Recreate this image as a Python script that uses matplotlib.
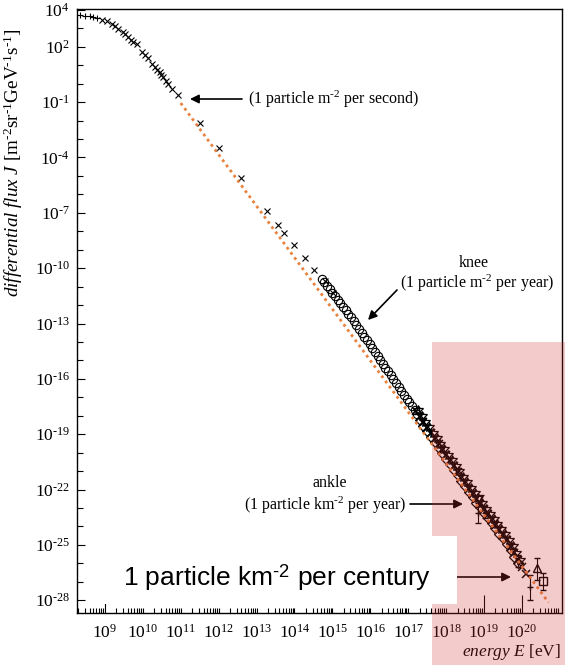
import matplotlib.pyplot as plt
import numpy as np
from matplotlib.patches import Rectangle
from matplotlib.ticker import FixedLocator, LogLocator, NullFormatter

plt.rcParams['font.family'] = ['Liberation Serif', 'DejaVu Serif']
plt.rcParams['mathtext.fontset'] = 'custom'
plt.rcParams['mathtext.rm'] = 'Liberation Serif'
plt.rcParams['mathtext.it'] = 'Liberation Serif:italic'
plt.rcParams['mathtext.sf'] = 'Liberation Sans'

# all values are log10(E / eV) and log10(J / m^-2 sr^-1 GeV^-1 s^-1)
plus_logE = [8.34, 8.47, 8.60, 8.68, 8.79]
plus_logJ = [3.74, 3.68, 3.68, 3.63, 3.58]

low_logE = [8.92, 9.05, 9.18, 9.26, 9.34, 9.47, 9.53, 9.61, 9.69, 9.74, 9.84, 9.98,
            10.06, 10.13, 10.24, 10.32, 10.37, 10.45, 10.48, 10.53, 10.61, 10.66, 10.77, 10.93]
low_logJ = [3.47, 3.41, 3.25, 3.14, 2.98, 2.82, 2.71, 2.54, 2.38, 2.27, 2.16, 1.73,
            1.57, 1.40, 1.08, 0.91, 0.75, 0.64, 0.48, 0.37, 0.15, -0.01, -0.28, -0.61]

mid_logE = [11.51, 12.01, 12.59, 13.27, 13.56, 13.72, 13.99, 14.28, 14.51, 14.80, 15.02]
mid_logJ = [-2.13, -3.49, -5.12, -6.91, -7.67, -8.11, -8.76, -9.47, -10.12, -10.72, -11.32]

# air shower array points around the knee
circ_logE = [14.72, 14.79, 14.86, 14.93, 15.00, 15.07, 15.14, 15.21, 15.28, 15.35, 15.42, 15.49,
             15.56, 15.63, 15.70, 15.77, 15.84, 15.91, 15.98, 16.05, 16.12, 16.19, 16.26, 16.33,
             16.40, 16.47, 16.54, 16.61, 16.68, 16.75, 16.82, 16.89, 16.96, 17.03, 17.10, 17.17, 17.24]
circ_logJ = [-10.58, -10.77, -10.96, -11.15, -11.34, -11.53, -11.72, -11.91, -12.09, -12.28, -12.47, -12.66,
             -12.87, -13.08, -13.29, -13.50, -13.71, -13.92, -14.13, -14.34, -14.55, -14.76, -14.97, -15.18,
             -15.39, -15.60, -15.81, -16.02, -16.23, -16.44, -16.65, -16.86, -17.07, -17.28, -17.49, -17.70, -17.91]

# highest energies, several experiments
bandA_logE = [17.2, 17.3, 17.4, 17.5, 17.6, 17.7, 17.8, 17.9, 18.0, 18.1, 18.2, 18.3, 18.4, 18.5, 18.6,
              18.7, 18.8, 18.9, 19.0, 19.1, 19.2, 19.3, 19.4, 19.5, 19.6, 19.7, 19.8, 19.9, 20.0, 20.1]
bandA_logJ = [-17.75, -18.05, -18.35, -18.65, -18.95, -19.25, -19.55, -19.85, -20.15, -20.45, -20.75,
              -21.05, -21.35, -21.65, -21.95, -22.23, -22.51, -22.79, -23.07, -23.35, -23.63, -23.91,
              -24.19, -24.47, -24.75, -25.10, -25.45, -25.80, -26.20, -26.60]
bandB_logE = [17.25, 17.35, 17.45, 17.55, 17.65, 17.75, 17.85, 17.95, 18.05, 18.15, 18.25, 18.35, 18.45,
              18.55, 18.65, 18.75, 18.85, 18.95, 19.05, 19.15, 19.25, 19.35, 19.45, 19.55, 19.65, 19.75,
              19.85, 19.95]
bandB_logJ = [-17.70, -18.00, -18.32, -18.60, -18.92, -19.20, -19.52, -19.80, -20.12, -20.40, -20.72,
              -21.00, -21.32, -21.60, -21.92, -22.18, -22.48, -22.74, -23.04, -23.30, -23.60, -23.86,
              -24.16, -24.42, -24.74, -25.08, -25.42, -25.80]
bandC_logE = [17.3, 17.4, 17.5, 17.6, 17.7, 17.8, 17.9, 18.0, 18.1, 18.2, 18.3, 18.4, 18.5, 18.6,
              18.7, 18.8, 18.9, 19.0, 19.1, 19.2, 19.3, 19.4, 19.5, 19.6, 19.7, 19.8, 19.9]
bandC_logJ = [-18.25, -18.55, -18.83, -19.15, -19.43, -19.75, -20.03, -20.35, -20.63, -20.95, -21.23,
              -21.55, -21.83, -22.15, -22.41, -22.71, -22.97, -23.27, -23.53, -23.83, -24.09, -24.39,
              -24.65, -24.95, -25.28, -25.65, -25.98]

err_logE = [18.84, 18.92, 19.03, 19.90, 20.21]
err_logJ = [-23.27, -22.60, -23.25, -25.88, -27.30]
err_lo = [-23.82, -22.90, -23.54, -26.20, -28.00]
err_hi = [-22.73, -22.30, -22.95, -25.55, -26.64]

tri_logE, tri_logJ, tri_lo, tri_hi = [20.40], [-26.26], [-26.91], [-25.72]
sq_logE, sq_logJ, sq_lo, sq_hi = [20.56], [-26.97], [-27.46], [-26.53]

# E^-2.8 power law
fit_logE = [11.0, 20.7]
fit_logJ = [-1.05, -28.12]

xtick_exp = [9, 10, 11, 12, 13, 14, 15, 16, 17, 18, 19, 20]
ytick_exp = [4, 2, -1, -4, -7, -10, -13, -16, -19, -22, -25, -28]


def p(v):
    return 10.0 ** np.asarray(v, dtype=float)


def exp_label(k):
    # short hyphen in the exponent, like the printed figure
    if k < 0:
        return r'$10^{\text{-}%d}$' % -k
    return r'$10^{%d}$' % k


fig = plt.figure(figsize=(5.65, 6.65), dpi=100)
ax = fig.add_axes([0.136, 0.078, 0.859, 0.9085])
ax.set_xscale('log')
ax.set_yscale('log')
ax.set_xlim(10 ** 8.26, 10 ** 21.06)
ax.set_ylim(10 ** -28.7, 10 ** 4.05)

ax.plot(p(plus_logE), p(plus_logJ), '+', color='k', ms=5, mew=0.8)
ax.plot(p(low_logE), p(low_logJ), 'x', color='k', ms=4, mew=0.8)
ax.plot(p(mid_logE), p(mid_logJ), 'x', color='k', ms=5, mew=0.8)
ax.plot(p(circ_logE), p(circ_logJ), 'o', mfc='none', mec='k', ms=6, mew=0.8)
ax.plot(p(bandA_logE), p(bandA_logJ), 'x', color='k', ms=6, mew=1.1)
ax.plot(p(bandB_logE), p(bandB_logJ), '*', mfc='none', mec='k', ms=7.5, mew=0.9)
ax.plot(p(bandC_logE), p(bandC_logJ), 'D', mfc='none', mec='k', ms=5, mew=0.9)

J = p(err_logJ)
ax.errorbar(p(err_logE), J, yerr=[J - p(err_lo), p(err_hi) - J], fmt='+', color='k',
            ms=5, elinewidth=0.8, capsize=2)
J = p(tri_logJ)
ax.errorbar(p(tri_logE), J, yerr=[J - p(tri_lo), p(tri_hi) - J], fmt='^', mfc='none', mec='k',
            ecolor='k', ms=6, elinewidth=0.8, capsize=2)
J = p(sq_logJ)
ax.errorbar(p(sq_logE), J, yerr=[J - p(sq_lo), p(sq_hi) - J], fmt='s', mfc='none', mec='k',
            ecolor='k', ms=6, elinewidth=0.8, capsize=2)

ax.plot(p(fit_logE), p(fit_logJ), linestyle=(0, (1, 1.3)), color='#e8823e', lw=2, zorder=3)

# axes and ticks
ax.set_xticks(p(xtick_exp))
ax.set_xticklabels([exp_label(k) for k in xtick_exp])
ax.xaxis.set_minor_locator(LogLocator(base=10, subs=np.arange(2, 10), numticks=100))
ax.xaxis.set_minor_formatter(NullFormatter())
ax.set_yticks(p(ytick_exp))
ax.set_yticklabels([exp_label(k) for k in ytick_exp])
ax.yaxis.set_minor_locator(FixedLocator([10.0 ** k for k in range(-28, 5) if k not in ytick_exp]))
ax.yaxis.set_minor_formatter(NullFormatter())

ax.tick_params(which='both', direction='in', top=False, right=False, width=0.8)
ax.tick_params(axis='y', which='major', length=6, pad=5, labelsize=12.5)
ax.tick_params(axis='y', which='minor', length=4.5)
ax.tick_params(axis='x', which='major', length=3.5, pad=8, labelsize=12.5)
ax.tick_params(axis='x', which='minor', length=3.5)
for t, loc in zip(ax.xaxis.get_major_ticks(), xtick_exp):
    if loc in (9, 19, 20):
        t.tick1line.set_markersize(13)
for s in ax.spines.values():
    s.set_linewidth(1.0)

ax.set_ylabel(r'$\mathit{differential\ flux\ J}$ [m$^{\text{-}2}$sr$^{\text{-}1}$GeV$^{\text{-}1}$s$^{\text{-}1}$]',
              fontsize=13.8)
ax.yaxis.set_label_coords(-0.107, 0.745)
ax.set_xlabel(r'$\mathit{energy\ E}$ [eV]', fontsize=12.5, ha='right')
ax.xaxis.set_label_coords(0.997, -0.048)

# annotations
arrow = dict(arrowstyle='-|>', color='k', lw=1.2, mutation_scale=13, shrinkA=0, shrinkB=0)
ax.annotate('', xy=(190, 566), xytext=(242, 566), xycoords='figure pixels', arrowprops=arrow)
fig.text(248 / 565, 566 / 665, r'(1 particle m$^{\text{-}2}$ per second)', fontsize=11.5,
         ha='left', va='center')

fig.text(474 / 565, 402 / 665, 'knee', fontsize=11.5, ha='center', va='center')
fig.text(477 / 565, 382 / 665, r'(1 particle m$^{\text{-}2}$ per year)', fontsize=11.5,
         ha='center', va='center')
ax.annotate('', xy=(368, 345), xytext=(397, 375), xycoords='figure pixels', arrowprops=arrow)

fig.text(330 / 565, 182 / 665, 'ankle', fontsize=11.5, ha='center', va='center')
fig.text(325 / 565, 160 / 665, r'(1 particle km$^{\text{-}2}$ per year)', fontsize=11.5,
         ha='center', va='center')
ax.annotate('', xy=(463, 161), xytext=(410, 161), xycoords='figure pixels', arrowprops=arrow,
            annotation_clip=False)
ax.annotate('', xy=(511, 88), xytext=(440, 88), xycoords='figure pixels', arrowprops=arrow,
            annotation_clip=False)

# highlighted UHE region and the label box on top of it
fig.add_artist(Rectangle((432 / 565, 0), 133 / 565, 323 / 665, transform=fig.transFigure,
                         facecolor=(0.82, 0.2, 0.2), alpha=0.25, lw=0, zorder=5))
fig.add_artist(Rectangle((100 / 565, 61 / 665), 357 / 565, 68 / 665, transform=fig.transFigure,
                         facecolor='white', lw=0, zorder=6))
fig.text(277 / 565, 87 / 665, '1 particle km$^{\\mathsf{\u2010}\\mathsf{2}}$ per century', fontsize=19,
         family=['Liberation Sans', 'DejaVu Sans'], ha='center', va='center', zorder=7)

fig.savefig('out.png', dpi=100)
